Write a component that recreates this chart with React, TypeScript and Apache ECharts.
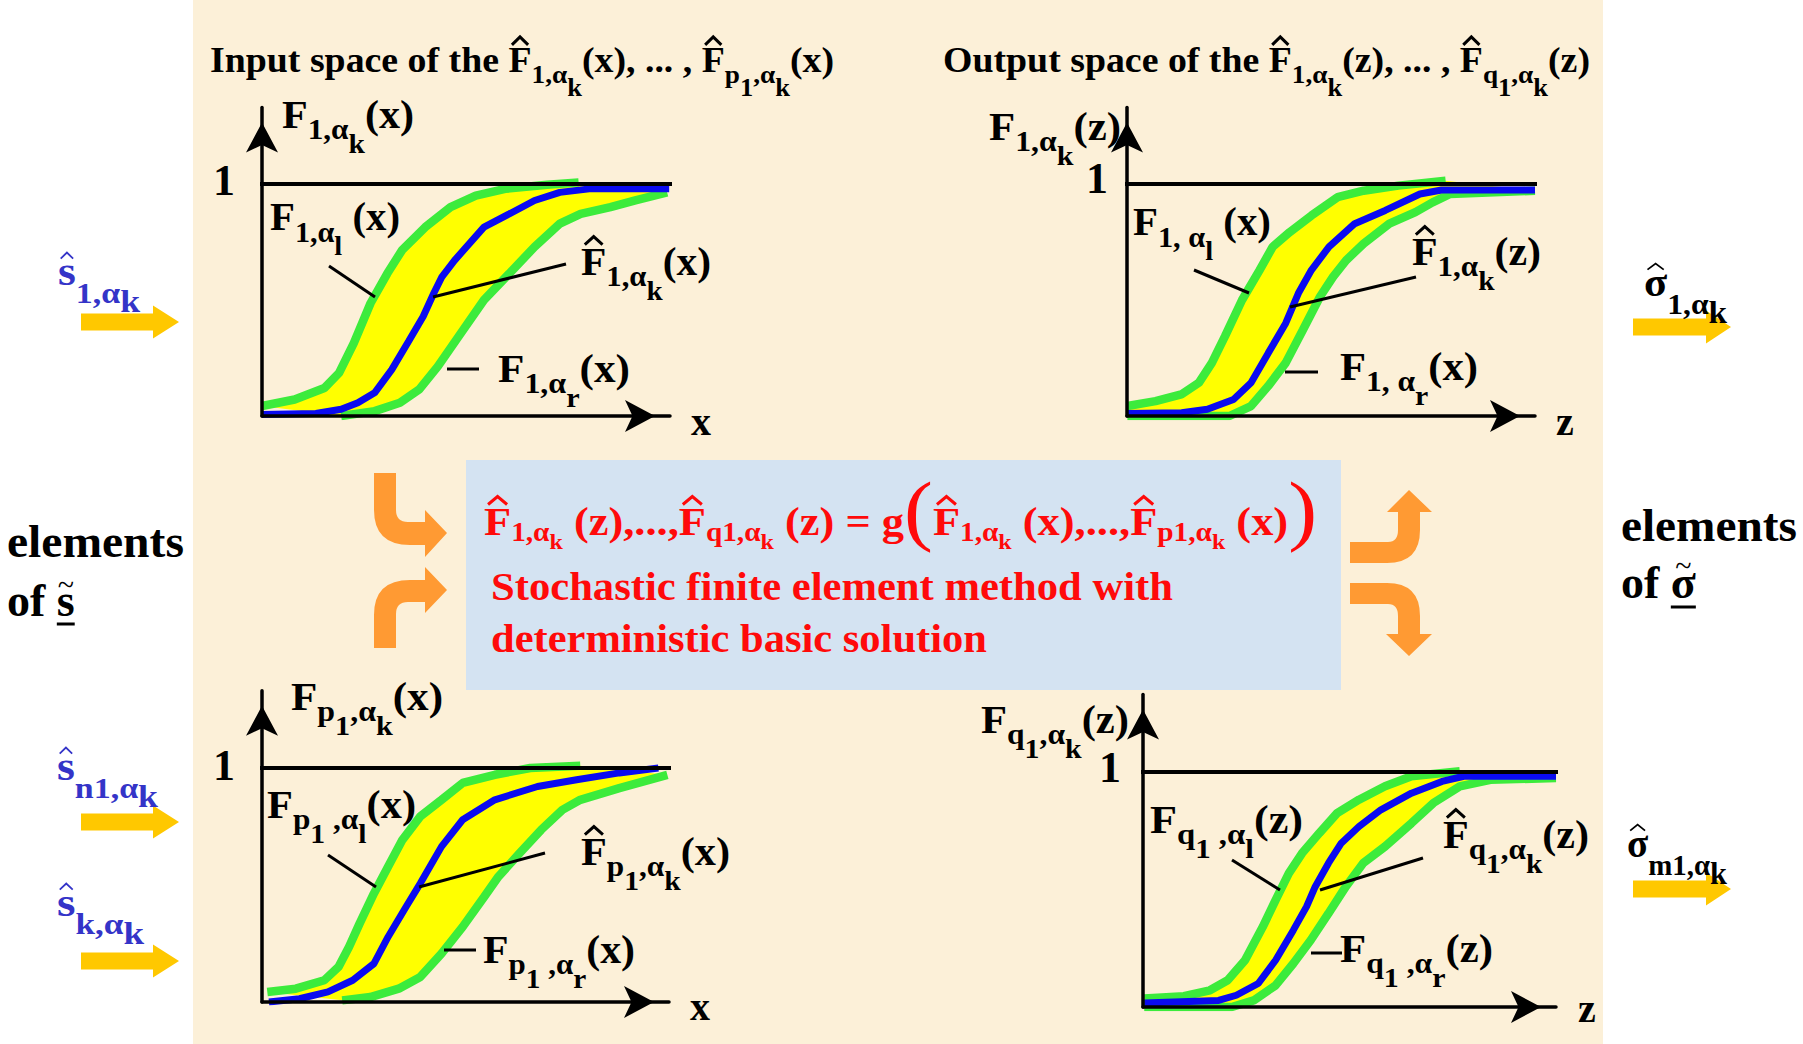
import React, { useEffect, useRef } from 'react';
import * as echarts from 'echarts';

const W = 1803;
const H = 1044;
const Y_MAX = 1.33;
const FONT = '"Liberation Serif", "Times New Roman", serif';
const GREEN = '#3CEB3C';
const BLUE = '#0A0AF0';
const YELLOW = '#FFFF00';
const RED = '#FF0A0A';
const SBLUE = '#3434C8';
const ORANGE = '#FF9A33';
const GOLD = '#FFC800';

// ---- curve data (x: 0..100 along axis, y: probability 0..1) ----
const tlLeft = [[0,0.043],[8,0.071],[15.3,0.121],[18.9,0.186],[22.5,0.314],[26.6,0.486],[30.7,0.614],[34.3,0.714],[40,0.814],[46.2,0.9],[52.4,0.95],[59.6,0.979],[69.9,0.997],[77.6,1.007]];
const tlMid = [[0,0.007],[13.2,0.011],[19.4,0.029],[23.5,0.057],[27.6,0.1],[31.8,0.2],[35.9,0.321],[39.5,0.429],[42.1,0.529],[44.1,0.6],[47.2,0.671],[54.4,0.814],[60.6,0.871],[66.8,0.929],[73,0.964],[80.2,0.979],[99.8,0.979]];
const tlRight = [[19.4,0],[27.6,0.021],[33.8,0.057],[38.5,0.114],[43.1,0.214],[48.2,0.343],[54.4,0.5],[60.6,0.614],[66.8,0.729],[73,0.829],[78.1,0.871],[85.4,0.9],[91.5,0.929],[99.3,0.964]];

const trLeft = [[0.1,0.043],[7,0.064],[13.3,0.093],[17.6,0.143],[20.8,0.229],[24,0.343],[28.2,0.5],[32.5,0.629],[35.7,0.729],[39.9,0.793],[45.2,0.864],[51.6,0.943],[58,0.971],[66.5,0.993],[78.1,1.014]];
const trMid = [[0.1,0.011],[13.4,0.014],[19.7,0.029],[26.1,0.071],[30.4,0.143],[34.6,0.271],[38.9,0.4],[42,0.529],[45.2,0.629],[49.5,0.729],[55.8,0.829],[63.3,0.886],[71.8,0.957],[77.1,0.974],[100,0.974]];
const trRight = [[0.1,0],[25.1,0],[30.4,0.043],[34.6,0.129],[38.9,0.229],[43.1,0.371],[47.3,0.514],[50.5,0.6],[53.7,0.671],[58,0.743],[64.3,0.829],[70.7,0.879],[74.9,0.921],[79.2,0.957],[100,0.971]];

const blLeft = [[1.3,0.043],[8.3,0.057],[15.3,0.093],[18.8,0.15],[21.4,0.236],[24,0.336],[27.5,0.464],[31,0.579],[34.5,0.693],[38.9,0.793],[44.1,0.864],[49.3,0.936],[57.2,0.971],[65.9,1.0],[78.2,1.01]];
const blMid = [[1.7,0],[9.2,0.014],[16.2,0.043],[22.3,0.093],[27.5,0.164],[31,0.279],[35.4,0.407],[38.9,0.507],[44.1,0.664],[49.3,0.779],[57.2,0.864],[67.7,0.921],[77.3,0.95],[87.8,0.979],[97.4,1.0]];
const blRight = [[19.7,0.007],[26.6,0.021],[33.6,0.057],[38.9,0.107],[44.1,0.207],[49.3,0.321],[54.6,0.45],[58.1,0.536],[63.3,0.636],[68.6,0.736],[73.8,0.821],[78.2,0.864],[87.8,0.914],[99.6,0.971]];

const brLeft = [[0.3,0.036],[9.9,0.046],[16.2,0.071],[20.5,0.114],[24.7,0.199],[29,0.341],[32.1,0.455],[35.3,0.569],[38.5,0.654],[42.7,0.74],[47,0.825],[52.3,0.882],[58.6,0.939],[65,0.982],[76.7,1.003]];
const brMid = [[0.3,0.017],[18.3,0.028],[22.6,0.05],[27.9,0.1],[32.1,0.199],[36.4,0.327],[39.6,0.427],[41.7,0.512],[44.9,0.612],[48,0.697],[52.3,0.768],[57.6,0.839],[65,0.91],[72.4,0.96],[77.7,0.982],[100,0.982]];
const brRight = [[0.3,0],[21.5,0],[26.8,0.028],[32.1,0.092],[36.4,0.185],[40.6,0.284],[44.9,0.398],[49.1,0.512],[53.3,0.612],[58.6,0.683],[65,0.782],[70.3,0.868],[76.7,0.939],[84.1,0.967],[100,0.974]];

// the "1" reference line extents (x from, x to) per panel
const oneLineX = [[-5, 100.7], [-3.4, 101], [-5, 101.4], [-4.1, 101.7]];

const CURVES = [
  { left: tlLeft, mid: tlMid, right: tlRight },
  { left: trLeft, mid: trMid, right: trRight },
  { left: blLeft, mid: blMid, right: blRight },
  { left: brLeft, mid: brMid, right: brRight },
];

// panel geometry (pixels)
const PANELS = [
  { left: 262, bottom: 416, width: 408, unit: 232 },
  { left: 1127, bottom: 416, width: 408, unit: 232 },
  { left: 262, bottom: 1002, width: 407, unit: 234 },
  { left: 1143, bottom: 1007, width: 413, unit: 235 },
];

// ---- text helpers ----
type Hat = { gap: number; h: number; lw: number; cap: number };
type Piece = { t: string; s?: number; dy?: number; w?: string; hat?: Hat };
type Lv = Record<number, { s: number; dy: number }>;

const HAT_F: Hat = { gap: 4, h: 8, lw: 3, cap: 0.662 };
const HAT_S: Hat = { gap: 8, h: 6, lw: 1.8, cap: 0.46 };

const LV_PANEL: Lv = { 1: { s: 0.74, dy: 0.28 }, 2: { s: 0.7, dy: 0.62 } };
const LV_TITLE: Lv = { 1: { s: 0.72, dy: 0.33 }, 2: { s: 0.7, dy: 0.7 } };
const LV_EQ: Lv = { 1: { s: 0.66, dy: 0.15 }, 2: { s: 0.54, dy: 0.36 } };
const LV_S: Lv = { 1: { s: 0.74, dy: 0.45 }, 2: { s: 0.78, dy: 0.68 } };

let mctx: CanvasRenderingContext2D | null = null;
function tw(text: string, size: number, weight: string) {
  if (!mctx) mctx = document.createElement('canvas').getContext('2d');
  mctx!.font = `${weight} ${size}px ${FONT}`;
  return mctx!.measureText(text).width;
}

function fp(hat: boolean, main: string, subs: [string, number][], tail: string, lv: Lv, hatStyle: Hat = HAT_F): Piece[] {
  const out: Piece[] = [{ t: main, hat: hat ? hatStyle : undefined }];
  subs.forEach(([t, l]) => out.push({ t, s: lv[l].s, dy: lv[l].dy }));
  if (tail) out.push({ t: tail });
  return out;
}

type Spec = { x: number; y: number; size: number; color?: string; pieces: Piece[]; width?: number };

function formula(spec: Spec): any[] {
  const color = spec.color || '#000';
  const items = spec.pieces.map((p) => {
    const fs = spec.size * (p.s ?? 1);
    const wt = p.w ?? 'bold';
    return { ...p, fs, wt, nat: tw(p.t, fs, wt) };
  });
  const total = items.reduce((a, b) => a + b.nat, 0);
  const sx = spec.width ? spec.width / total : 1;
  const out: any[] = [];
  let cx = spec.x;
  for (const it of items) {
    const bl = spec.y + (it.dy ?? 0) * spec.size;
    out.push({
      type: 'text', z: 20, silent: true, x: cx, y: bl - 0.34 * it.fs, scaleX: sx,
      style: { text: it.t, x: 0, y: 0, fill: color, fontSize: it.fs, fontWeight: it.wt, fontFamily: FONT,
        align: 'left', verticalAlign: 'middle', textAlign: 'left', textVerticalAlign: 'middle' },
    });
    if (it.hat) {
      const gw = it.nat * sx;
      const top = bl - it.hat.cap * it.fs - it.hat.gap;
      out.push({
        type: 'polyline', z: 20, silent: true,
        shape: { points: [[cx + 0.15 * gw, top], [cx + 0.5 * gw, top - it.hat.h], [cx + 0.85 * gw, top]] },
        style: { stroke: color, lineWidth: it.hat.lw, fill: 'none', lineJoin: 'miter' },
      });
    }
    cx += it.nat * sx;
  }
  return out;
}

// ---- texts ----
const TITLES: Spec[] = [
  { x: 210, y: 72, size: 35, width: 624, pieces: [
    { t: 'Input space of the ' },
    ...fp(true, 'F', [['1,α', 1], ['k', 2]], '(x), ... , ', LV_TITLE),
    ...fp(true, 'F', [['p', 1], ['1', 2], [',α', 1], ['k', 2]], '(x)', LV_TITLE),
  ] },
  { x: 943, y: 72, size: 35, width: 647, pieces: [
    { t: 'Output space of the ' },
    ...fp(true, 'F', [['1,α', 1], ['k', 2]], '(z), ... , ', LV_TITLE),
    ...fp(true, 'F', [['q', 1], ['1', 2], [',α', 1], ['k', 2]], '(z)', LV_TITLE),
  ] },
];

const PANEL_LABELS: Spec[] = [
  // top-left
  { x: 282, y: 128, size: 40, width: 132, pieces: fp(false, 'F', [['1,α', 1], ['k', 2]], '(x)', LV_PANEL) },
  { x: 270, y: 230, size: 40, width: 130, pieces: fp(false, 'F', [['1,α', 1], ['l', 2]], ' (x)', LV_PANEL) },
  { x: 581, y: 275, size: 40, width: 130, pieces: fp(true, 'F', [['1,α', 1], ['k', 2]], '(x)', LV_PANEL) },
  { x: 498, y: 382, size: 40, width: 132, pieces: fp(false, 'F', [['1,α', 1], ['r', 2]], '(x)', LV_PANEL) },
  // top-right
  { x: 989, y: 140, size: 40, width: 132, pieces: fp(false, 'F', [['1,α', 1], ['k', 2]], '(z)', LV_PANEL) },
  { x: 1133, y: 235, size: 40, width: 138, pieces: fp(false, 'F', [['1, α', 1], ['l', 2]], ' (x)', LV_PANEL) },
  { x: 1412, y: 265, size: 40, width: 129, pieces: fp(true, 'F', [['1,α', 1], ['k', 2]], '(z)', LV_PANEL) },
  { x: 1340, y: 380, size: 40, width: 138, pieces: fp(false, 'F', [['1, α', 1], ['r', 2]], '(x)', LV_PANEL) },
  // bottom-left
  { x: 291, y: 710, size: 40, width: 152, pieces: fp(false, 'F', [['p', 1], ['1', 2], [',α', 1], ['k', 2]], '(x)', LV_PANEL) },
  { x: 267, y: 818, size: 40, width: 149, pieces: fp(false, 'F', [['p', 1], ['1', 2], [' ,α', 1], ['l', 2]], '(x)', LV_PANEL) },
  { x: 581, y: 865, size: 40, width: 149, pieces: fp(true, 'F', [['p', 1], ['1', 2], [',α', 1], ['k', 2]], '(x)', LV_PANEL) },
  { x: 483, y: 963, size: 40, width: 152, pieces: fp(false, 'F', [['p', 1], ['1', 2], [' ,α', 1], ['r', 2]], '(x)', LV_PANEL) },
  // bottom-right
  { x: 981, y: 733, size: 40, width: 148, pieces: fp(false, 'F', [['q', 1], ['1', 2], [',α', 1], ['k', 2]], '(z)', LV_PANEL) },
  { x: 1150, y: 833, size: 40, width: 153, pieces: fp(false, 'F', [['q', 1], ['1', 2], [' ,α', 1], ['l', 2]], '(z)', LV_PANEL) },
  { x: 1443, y: 848, size: 40, width: 146, pieces: fp(true, 'F', [['q', 1], ['1', 2], [',α', 1], ['k', 2]], '(z)', LV_PANEL) },
  { x: 1340, y: 962, size: 40, width: 153, pieces: fp(false, 'F', [['q', 1], ['1', 2], [' ,α', 1], ['r', 2]], '(z)', LV_PANEL) },
  // "1" marks and axis names
  { x: 213, y: 195, size: 44, pieces: [{ t: '1' }] },
  { x: 1086, y: 193, size: 44, pieces: [{ t: '1' }] },
  { x: 213, y: 780, size: 44, pieces: [{ t: '1' }] },
  { x: 1099, y: 782, size: 44, pieces: [{ t: '1' }] },
  { x: 691, y: 435, size: 40, pieces: [{ t: 'x' }] },
  { x: 1556, y: 435, size: 40, pieces: [{ t: 'z' }] },
  { x: 690, y: 1020, size: 40, pieces: [{ t: 'x' }] },
  { x: 1578, y: 1022, size: 40, pieces: [{ t: 'z' }] },
];

const PAREN_L: Piece = { t: '(', s: 1.95, w: 'normal', dy: 0.04 };
const PAREN_R: Piece = { t: ')', s: 1.95, w: 'normal', dy: 0.04 };

const CENTER_TEXTS: Spec[] = [
  { x: 484, y: 535, size: 40, color: RED, width: 833, pieces: [
    ...fp(true, 'F', [['1,α', 1], ['k', 2]], ' (z),...,', LV_EQ),
    ...fp(true, 'F', [['q1,α', 1], ['k', 2]], ' (z) = g', LV_EQ),
    PAREN_L,
    ...fp(true, 'F', [['1,α', 1], ['k', 2]], ' (x),...,', LV_EQ),
    ...fp(true, 'F', [['p1,α', 1], ['k', 2]], ' (x)', LV_EQ),
    PAREN_R,
  ] },
  { x: 491, y: 600, size: 40, color: RED, width: 682, pieces: [{ t: 'Stochastic finite element method with' }] },
  { x: 491, y: 652, size: 40, color: RED, width: 496, pieces: [{ t: 'deterministic basic solution' }] },
];

const SIDE_TEXTS: Spec[] = [
  { x: 58, y: 285, size: 40, color: SBLUE, width: 82, pieces: fp(true, 's', [['1,α', 1], ['k', 2]], '', LV_S, HAT_S) },
  { x: 57, y: 780, size: 40, color: SBLUE, width: 101, pieces: fp(true, 's', [['n1,α', 1], ['k', 2]], '', LV_S, HAT_S) },
  { x: 57, y: 916, size: 40, color: SBLUE, width: 87, pieces: fp(true, 's', [['k,α', 1], ['k', 2]], '', LV_S, HAT_S) },
  { x: 1644, y: 296, size: 40, width: 83, pieces: fp(true, 'σ', [['1,α', 1], ['k', 2]], '', LV_S, HAT_S) },
  { x: 1627, y: 857, size: 40, width: 100, pieces: fp(true, 'σ', [['m1,α', 1], ['k', 2]], '', LV_S, HAT_S) },
  { x: 7, y: 557, size: 46, width: 177, pieces: [{ t: 'elements' }] },
  { x: 1621, y: 541, size: 46, width: 176, pieces: [{ t: 'elements' }] },
  { x: 7, y: 616, size: 46, pieces: [{ t: 'of s' }] },
  { x: 1621, y: 598, size: 46, pieces: [{ t: 'of σ' }] },
];

// leader lines [x1, y1, x2, y2]
const LEADERS = [
  [329, 266, 375, 297], [433, 297, 566, 264], [447, 369, 479, 369],
  [1194, 270, 1249, 293], [1290, 307, 1416, 277], [1285, 372, 1318, 372],
  [328, 855, 376, 887], [419, 887, 545, 853], [444, 950, 476, 950],
  [1232, 860, 1280, 890], [1320, 890, 1423, 858], [1311, 953, 1342, 953],
];

// straight input/output arrows: [xStart, xHeadBase, xTip, yCenter]
const STRAIGHT_ARROWS = [
  [81, 153, 179, 322], [81, 153, 179, 822], [81, 153, 179, 961],
  [1633, 1706, 1731, 327], [1633, 1706, 1731, 889],
];

const BENT_ARROWS: Record<string, string> = {
  bentTL: 'M374,473 L396,473 L396,510 Q396,522 408,522 L425,522 L425,510 L447,533 L425,557 L425,545 L410,545 Q374,545 374,510 Z',
  bentBL: 'M374,648 L396,648 L396,614 Q396,602 408,602 L425,602 L425,613 L447,590 L425,567 L425,580 L410,580 Q374,580 374,615 Z',
  bentTR: 'M1350,563 L1350,542 L1388,542 Q1398,542 1398,530 L1398,512 L1387,512 L1409,490 L1432,512 L1420,512 L1420,530 Q1420,563 1387,563 Z',
  bentBR: 'M1350,583 L1387,583 Q1420,583 1420,616 L1420,634 L1432,634 L1409,656 L1386,634 L1398,634 L1398,616 Q1398,604 1388,604 L1350,604 Z',
};

function registerShapes() {
  Object.keys(BENT_ARROWS).forEach((k) => {
    echarts.graphic.registerShape(k, echarts.graphic.extendPath(BENT_ARROWS[k], {}) as any);
  });
}

function buildOption(): any {
  const grids = PANELS.map((p) => ({
    left: p.left, top: p.bottom - p.unit * Y_MAX, width: p.width, height: p.unit * Y_MAX,
    containLabel: false, outerBoundsMode: 'none', show: false,
  }));
  const axisLine = (w: number) => ({
    show: true, onZero: false, symbol: ['none', 'arrow'], symbolSize: [24, 30], symbolOffset: [0, -15],
    lineStyle: { color: '#000', width: w },
  });
  const xAxes = PANELS.map((_, i) => ({
    type: 'value', gridIndex: i, min: 0, max: 100, z: 6, axisLine: axisLine(3.5),
    axisTick: { show: false }, axisLabel: { show: false }, splitLine: { show: false },
  }));
  const yAxes = PANELS.map((_, i) => ({
    type: 'value', gridIndex: i, min: 0, max: Y_MAX, z: 6, axisLine: axisLine(3.5),
    axisTick: { show: false }, axisLabel: { show: false }, splitLine: { show: false },
  }));

  const series: any[] = [];
  const line = (data: number[][], color: string, width: number, z: number, i: number, clip = true) => ({
    type: 'line', xAxisIndex: i, yAxisIndex: i, data, symbol: 'none', silent: true, clip, z,
    lineStyle: { color, width }, emphasis: { disabled: true },
  });
  CURVES.forEach((c, i) => {
    const poly = [...c.left, ...c.right.slice().reverse()];
    series.push({
      type: 'custom', coordinateSystem: 'cartesian2d', xAxisIndex: i, yAxisIndex: i, z: 2, clip: false, silent: true,
      data: [[0, 0]],
      renderItem: (_p: any, api: any) => ({
        type: 'polygon', shape: { points: poly.map((pt) => api.coord(pt)) }, style: { fill: YELLOW },
      }),
    });
    series.push(line(c.left, GREEN, 8.5, 3, i));
    series.push(line(c.right, GREEN, 8.5, 3, i));
    series.push(line(c.mid, BLUE, 7, 4, i));
    series.push(line([[oneLineX[i][0], 1], [oneLineX[i][1], 1]], '#000', 4, 7, i, false));
  });

  const graphic: any[] = [];
  graphic.push({ type: 'rect', z: 0, silent: true, shape: { x: 193, y: 0, width: 1410, height: H }, style: { fill: '#FCF0D8' } });
  graphic.push({ type: 'rect', z: 1, silent: true, shape: { x: 466, y: 460, width: 875, height: 230 }, style: { fill: '#D4E3F2' } });

  Object.keys(BENT_ARROWS).forEach((k) => graphic.push({ type: k, z: 5, silent: true, style: { fill: ORANGE } }));

  STRAIGHT_ARROWS.forEach(([x0, xb, xt, cy]) => {
    const hs = 8.5, hh = 16.5;
    graphic.push({
      type: 'polygon', z: 5, silent: true,
      shape: { points: [[x0, cy - hs], [xb, cy - hs], [xb, cy - hh], [xt, cy], [xb, cy + hh], [xb, cy + hs], [x0, cy + hs]] },
      style: { fill: GOLD },
    });
  });

  LEADERS.forEach(([x1, y1, x2, y2]) => graphic.push({
    type: 'line', z: 20, silent: true, shape: { x1, y1, x2, y2 }, style: { stroke: '#000', lineWidth: 3 },
  }));

  [...TITLES, ...PANEL_LABELS, ...CENTER_TEXTS, ...SIDE_TEXTS].forEach((s) => graphic.push(...formula(s)));

  // tilde + underline decorations for "of s" and "of σ"
  const ofW = tw('of ', 46, 'bold');
  const sW = tw('s', 46, 'bold');
  const sgW = tw('σ', 46, 'bold');
  graphic.push({ type: 'line', z: 20, silent: true, shape: { x1: 7 + ofW, y1: 624, x2: 7 + ofW + sW, y2: 624 }, style: { stroke: '#000', lineWidth: 3 } });
  graphic.push({ type: 'text', z: 20, silent: true, x: 7 + ofW + sW / 2, y: 584, style: { text: '~', fill: '#000', fontSize: 30, fontFamily: FONT, align: 'center', verticalAlign: 'middle', textAlign: 'center', textVerticalAlign: 'middle' } });
  graphic.push({ type: 'line', z: 20, silent: true, shape: { x1: 1621 + ofW, y1: 607, x2: 1621 + ofW + sgW, y2: 607 }, style: { stroke: '#000', lineWidth: 3 } });
  graphic.push({ type: 'text', z: 20, silent: true, x: 1621 + ofW + sgW / 2, y: 565, style: { text: '~', fill: '#000', fontSize: 30, fontFamily: FONT, align: 'center', verticalAlign: 'middle', textAlign: 'center', textVerticalAlign: 'middle' } });

  return {
    animation: false,
    backgroundColor: '#FFFFFF',
    grid: grids,
    xAxis: xAxes,
    yAxis: yAxes,
    series,
    graphic: { elements: graphic },
  };
}

export default function App() {
  const ref = useRef<HTMLDivElement>(null);
  useEffect(() => {
    const el = ref.current;
    if (!el) return;
    registerShapes();
    const chart = echarts.init(el, null, { renderer: 'svg', width: W, height: H });
    chart.setOption(buildOption());
    return () => chart.dispose();
  }, []);
  return <div ref={ref} style={{ position: 'absolute', left: 0, top: 0, width: W, height: H, background: '#fff' }} />;
}
